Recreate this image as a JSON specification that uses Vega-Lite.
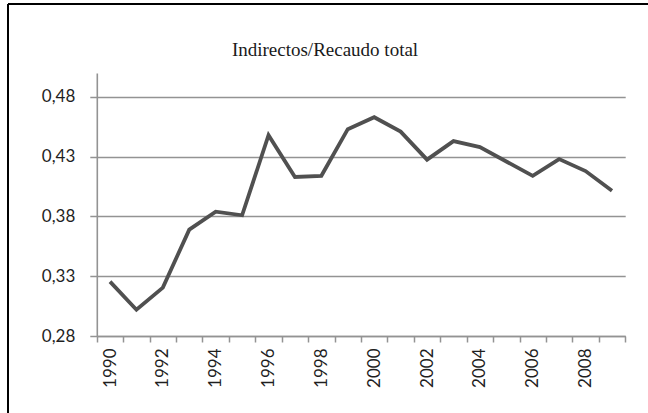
{
  "$schema": "https://vega.github.io/schema/vega-lite/v6.json",
  "width": 640,
  "height": 409,
  "autosize": {"type": "none"},
  "padding": {"left": 8, "top": 4, "right": 0, "bottom": 0},
  "background": "white",
  "view": {"stroke": "black", "strokeWidth": 2, "strokeDash": [640, 1049, 409, 0]},
  "title": {
    "text": "Indirectos/Recaudo total",
    "font": "Liberation Serif",
    "fontSize": 19,
    "fontWeight": "normal",
    "color": "#1a1a1a",
    "anchor": "middle",
    "frame": "group",
    "baseline": "alphabetic",
    "offset": -71,
    "dx": -3
  },
  "data": {
    "values": [
      {"year": 1990, "ratio": 0.3255},
      {"year": 1991, "ratio": 0.302},
      {"year": 1992, "ratio": 0.3205},
      {"year": 1993, "ratio": 0.369},
      {"year": 1994, "ratio": 0.384},
      {"year": 1995, "ratio": 0.381},
      {"year": 1996, "ratio": 0.448},
      {"year": 1997, "ratio": 0.413},
      {"year": 1998, "ratio": 0.414},
      {"year": 1999, "ratio": 0.453},
      {"year": 2000, "ratio": 0.463},
      {"year": 2001, "ratio": 0.451},
      {"year": 2002, "ratio": 0.4275},
      {"year": 2003, "ratio": 0.443},
      {"year": 2004, "ratio": 0.438},
      {"year": 2005, "ratio": 0.426},
      {"year": 2006, "ratio": 0.414},
      {"year": 2007, "ratio": 0.428},
      {"year": 2008, "ratio": 0.418},
      {"year": 2009, "ratio": 0.4015}
    ]
  },
  "mark": {"type": "line", "color": "#505050", "strokeWidth": 3.8, "strokeJoin": "miter"},
  "encoding": {
    "x": {
      "field": "year",
      "type": "ordinal",
      "scale": {"type": "band", "range": [88.8, 617.2], "paddingInner": 0, "paddingOuter": 0},
      "axis": {
        "title": null,
        "orient": "bottom",
        "offset": -77,
        "tickBand": "extent",
        "grid": false,
        "domainColor": "#939393",
        "domainWidth": 1.6,
        "tickColor": "#939393",
        "tickWidth": 1.5,
        "tickSize": 6,
        "labelAngle": 270,
        "labelPadding": 6,
        "labelFont": "Lato",
        "labelFontSize": 17,
        "labelColor": "#1f1f1f",
        "labelOverlap": false,
        "labelExpr": "datum.value % 2 == 0 ? datum.label : ''"
      }
    },
    "y": {
      "field": "ratio",
      "type": "quantitative",
      "scale": {"domain": [0.28, 0.5], "range": [332, 69], "zero": false, "nice": false},
      "axis": {
        "title": null,
        "offset": -88.8,
        "values": [0.28, 0.33, 0.38, 0.43, 0.48],
        "labelExpr": "replace(format(datum.value, '.2f'), '.', ',')",
        "grid": true,
        "gridColor": "#939393",
        "gridWidth": 1.6,
        "domainColor": "#939393",
        "domainWidth": 1.6,
        "tickColor": "#939393",
        "tickWidth": 1.5,
        "tickSize": 7,
        "labelPadding": 15,
        "labelFont": "Lato",
        "labelFontSize": 17,
        "labelColor": "#1f1f1f"
      }
    }
  }
}
